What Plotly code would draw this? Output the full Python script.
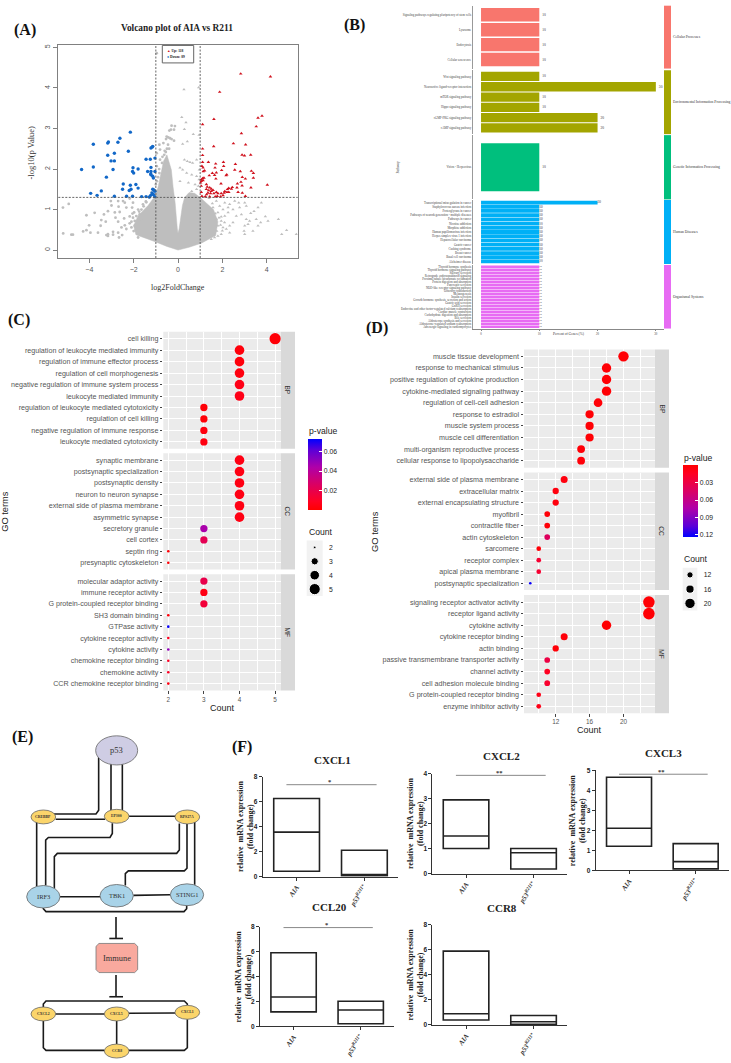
import plotly.graph_objects as go

W, H = 731, 1063
SERIF = "Liberation Serif"
SANS = "Liberation Sans"

# ---------- panel A data ----------
blue_x = [-4.35,-3.82,-3.82,-3.94,-3.65,-3.46,-3.23,-3.17,-3.17,-3.14,-3.02,-2.87,-2.87,-2.93,-2.87,-2.71,-2.62,-2.24,-2.15,-2.47,-2.5,-2.32,-2.15,-2.12,-2.2,-2.05,-2.03,-2.05,-2.0,-1.8,-1.9,-1.8,-1.64,-1.44,-1.44,-1.37,-1.25,-1.22,-1.17,-1.14,-1.04,-1.22,-1.22,-1.22,-1.14,-1.04,-1.11,-1.23,-1.14,-1.08,-1.04,-1.17,-1.23,-1.29,-1.11,-1.05]
blue_y = [1.99,2.61,2.05,1.40,1.35,1.46,1.80,2.34,2.64,2.67,2.2,2.2,2.39,1.99,1.33,2.66,2.76,2.44,2.91,1.63,1.5,1.33,1.6,1.5,1.47,1.33,2.03,1.94,1.9,2.0,1.62,1.53,1.32,1.32,2.24,1.94,2.24,2.52,2.54,2.56,2.27,2.04,1.94,1.86,1.82,1.94,1.78,1.88,1.5,1.48,1.45,1.41,1.35,1.31,1.37,1.32]
red_x = [2.83,4.17,1.88,1.62,1.11,3.79,3.61,3.53,2.86,2.5,3.05,1.61,1.11,1.11,2.89,3.0,3.28,1.11,1.08,1.13,1.14,1.2,1.37,1.7,1.67,2.05,2.06,2.59,2.56,2.81,3.31,3.4,3.4,3.04,2.9,2.84,2.68,2.89,3.29,4.03,2.66,2.71,2.9,3.04,2.45,1.97,2.2,2.17,1.73,1.55,1.41,1.65,1.71,1.05,1.11,1.17,1.05,1.13,1.02,1.94,1.28,1.32,1.43,1.5,1.28,1.38,1.5,1.58,1.35,1.47,1.62,1.29,1.73,1.8,1.77,1.95,2.08,2.11,2.23,2.29,2.21,2.03,1.92,1.68,1.43,1.23,1.05,1.05,1.08,2.29,2.41]
red_y = [4.35,4.28,3.90,3.23,3.10,3.31,3.26,3.05,2.88,2.63,2.6,2.56,2.5,2.34,2.35,2.33,2.35,2.17,2.07,2.03,1.94,1.96,2.17,2.13,2.03,2.17,2.07,2.12,1.98,1.94,1.95,1.9,1.78,1.76,1.8,1.68,1.64,1.59,1.54,1.61,1.54,1.43,1.41,1.33,1.55,1.97,1.86,1.84,1.91,1.9,1.84,1.85,1.76,1.74,1.77,1.78,1.7,1.72,1.66,1.64,1.62,1.56,1.54,1.51,1.5,1.47,1.45,1.48,1.41,1.4,1.4,1.37,1.43,1.4,1.33,1.4,1.41,1.45,1.5,1.53,1.43,1.35,1.32,1.32,1.32,1.32,1.58,1.43,1.33,1.43,1.51]
gray_left_x = [-0.96,-0.29,-0.14,-0.32,-0.18,-0.39,-0.51,-0.44,-0.36,-0.54,-0.29,-0.18,-0.66,-0.84,-0.81,-0.96,-0.81,-0.96,-0.84,-0.6,-0.7,-0.5,-0.4,-0.45,-4.93,-5.19,-5.18,-4.81,-4.74,-4.28,-4.13,-3.95,-3.61,-4.01,-4.13,-3.76,-3.46,-3.49,-3.26,-3.34,-3.16,-3.0,-3.03,-2.7,-2.48,-2.68,-2.85,-2.63,-2.82,-2.7,-2.43,-2.4,-2.33,-2.03,-2.18,-2.07,-1.98,-2.18,-2.03,-1.88,-2.4,-2.18,-2.55,-2.33,-2.1,-1.95,-3.23,-3.16,-2.93,-2.93,-2.7,-2.52,-2.66,-3.16,-1.8,-1.73,-1.8,-1.83,-1.65,-1.58,-1.43,-1.73,-1.65,-1.8,-2.1,-2.0,-1.95,-2.05,-1.9,-1.75,-1.55,-1.45,-1.3,-1.2,-1.1,-1.0,-0.95,-0.9,-0.85,-0.72,-0.62,-0.55]
gray_left_y = [4.86,3.07,3.06,2.97,2.97,2.95,2.8,2.78,2.76,2.74,2.74,2.7,2.64,2.6,2.48,2.39,2.23,2.07,1.9,2.45,2.3,2.5,2.5,2.6,1.14,1.05,0.41,0.38,0.38,0.46,0.49,0.43,0.43,0.61,0.86,0.92,0.74,0.6,0.7,0.88,0.96,1.1,1.21,1.21,1.21,1.07,0.93,0.94,0.8,0.7,0.78,1.17,1.05,1.17,1.27,1.05,0.93,0.83,0.8,0.84,0.61,0.66,0.56,0.52,0.56,0.6,0.37,0.39,0.45,0.38,0.43,0.37,0.31,0.35,0.52,0.39,0.31,0.72,1.0,1.13,1.18,0.88,0.76,1.0,0.7,0.47,0.72,0.9,0.5,0.95,1.08,1.2,1.3,1.42,1.5,1.62,1.7,1.8,2.0,2.15,2.35,2.42]
gray_right_x = [0.27,0.93,0.17,0.36,0.29,0.69,0.95,0.42,0.21,0.29,0.42,0.54,0.66,0.84,0.09,0.21,0.39,0.62,0.84,0.96,0.09,0.47,0.77,0.92,0.62,0.84,0.95,5.34,4.9,4.68,4.53,3.94,4.06,3.76,3.61,3.43,3.28,3.01,3.08,2.74,2.56,2.33,2.11,2.78,2.48,2.86,2.63,3.08,3.23,3.01,3.16,3.53,3.73,3.38,2.98,3.01,3.61,2.48,2.33,2.26,2.11,1.95,2.18,2.33,1.95,1.8,1.65,1.5,1.88,1.8,2.03,1.73,2.26,1.58,1.73,1.8,2.03,1.85,1.92,1.68,1.55,1.4,1.25,2.0,1.95,1.75,2.1]
gray_right_y = [3.96,4.01,3.28,3.15,2.98,2.86,2.84,2.68,2.62,2.23,2.19,2.17,2.15,2.23,2.03,1.98,1.9,1.86,1.82,1.98,1.7,1.66,1.62,1.58,1.45,1.5,1.74,0.39,0.49,0.39,0.76,0.83,0.72,1.17,1.05,0.96,0.91,1.17,1.09,1.17,1.21,1.13,1.17,1.05,1.0,0.88,0.84,0.76,0.72,0.6,0.64,0.76,0.68,0.47,0.47,0.39,0.6,0.68,0.6,0.93,0.84,0.72,0.52,0.43,0.39,0.35,0.31,0.27,1.09,0.93,1.0,1.21,1.05,1.05,0.76,0.6,0.56,0.8,0.62,0.9,1.15,1.28,1.32,0.48,0.82,0.47,0.68]
cloud_x = [0,-0.5,-1,-1.4,-1.9,-2.0,-1.8,-1.35,-1.05,-0.9,-0.78,-0.65,-0.5,-0.3,-0.22,-0.13,-0.03,0,0.05,0.2,0.3,0.5,0.75,1,1.3,1.6,1.8,1.7,1.05,0.5,0]
cloud_y = [0,0.09,0.2,0.28,0.38,0.6,0.85,1.1,1.32,1.55,1.9,2.2,2.35,1.98,1.55,1.17,0.52,0.42,0.52,1.1,1.3,1.42,1.4,1.3,1.15,1.0,0.7,0.36,0.17,0.07,0]
thresholds_x = [-1, 1]
threshold_y = 1.3

# ---------- panel B data ----------
b_groups = ["Cellular Processes", "Environmental Information Processing", "Genetic Information Processing", "Human Diseases", "Organismal Systems"]
b_cell = ["Signaling pathways regulating pluripotency of stem cells", "Lysosome", "Endocytosis", "Cellular senescence"]
b_cell_v = [10, 10, 10, 10]
b_env = ["Wnt signaling pathway", "Neuroactive ligand-receptor interaction", "mTOR signaling pathway", "Hippo signaling pathway", "cGMP-PKG signaling pathway", "cAMP signaling pathway"]
b_env_v = [10, 30, 10, 10, 20, 20]
b_gen = ["Virion - Herpesvirus"]
b_gen_v = [10]
b_hum = ["Transcriptional misregulation in cancer", "Staphylococcus aureus infection", "Proteoglycans in cancer", "Pathways of neurodegeneration - multiple diseases", "Pathways in cancer", "Nicotine addiction", "Morphine addiction", "Human papillomavirus infection", "Herpes simplex virus 1 infection", "Hepatocellular carcinoma", "Gastric cancer", "Cushing syndrome", "Breast cancer", "Basal cell carcinoma", "Alzheimer disease"]
b_hum_v = [20, 10, 10, 10, 10, 10, 10, 10, 10, 10, 10, 10, 10, 10, 10]
b_org = ["Thyroid hormone synthesis", "Thyroid hormone signaling pathway", "Salivary secretion", "Retrograde endocannabinoid signaling", "Proximal tubule bicarbonate reclamation", "Protein digestion and absorption", "Pancreatic secretion", "NOD-like receptor signaling pathway", "Olfactory transduction", "Melanogenesis", "Insulin secretion", "Growth hormone synthesis, secretion and action", "Gastric acid secretion", "GnRH secretion", "Endocrine and other factor-regulated calcium reabsorption", "Cardiac muscle contraction", "Carbohydrate digestion and absorption", "Bile secretion", "Aldosterone synthesis and secretion", "Aldosterone-regulated sodium reabsorption", "Adrenergic signaling in cardiomyocytes"]
b_org_v = [10] * 21

# ---------- panel C data ----------
c_bp = ["cell killing", "regulation of leukocyte mediated immunity", "regulation of immune effector process", "regulation of cell morphogenesis", "negative regulation of immune system process", "leukocyte mediated immunity", "regulation of leukocyte mediated cytotoxicity", "regulation of cell killing", "negative regulation of immune response", "leukocyte mediated cytotoxicity"]
c_bp_n = [5, 4, 4, 4, 4, 4, 3, 3, 3, 3]
c_bp_p = [.002, .003, .003, .004, .006, .006, .002, .002, .004, .004]
c_cc = ["synaptic membrane", "postsynaptic specialization", "postsynaptic density", "neuron to neuron synapse", "external side of plasma membrane", "asymmetric synapse", "secretory granule", "cell cortex", "septin ring", "presynaptic cytoskeleton"]
c_cc_n = [4, 4, 4, 4, 4, 4, 3, 3, 2, 2]
c_cc_p = [.005, .005, .005, .005, .005, .005, .045, .022, .002, .002]
c_mf = ["molecular adaptor activity", "immune receptor activity", "G protein-coupled receptor binding", "SH3 domain binding", "GTPase activity", "cytokine receptor activity", "cytokine activity", "chemokine receptor binding", "chemokine activity", "CCR chemokine receptor binding"]
c_mf_n = [3, 3, 3, 2, 2, 2, 2, 2, 2, 2]
c_mf_p = [.02, .005, .015, .003, .072, .008, .05, .01, .01, .005]
c_legend = [2, 3, 4, 5]

# ---------- panel D data ----------
d_bp = ["muscle tissue development", "response to mechanical stimulus", "positive regulation of cytokine production", "cytokine-mediated signaling pathway", "regulation of cell-cell adhesion", "response to estradiol", "muscle system process", "muscle cell differentiation", "multi-organism reproductive process", "cellular response to lipopolysaccharide"]
d_bp_n = [20, 18, 18, 18, 17, 16, 16, 16, 15, 15]
d_bp_p = [.002, .002, .002, .002, .003, .002, .002, .002, .003, .004]
d_cc = ["external side of plasma membrane", "extracellular matrix", "external encapsulating structure", "myofibril", "contractile fiber", "actin cytoskeleton", "sarcomere", "receptor complex", "apical plasma membrane", "postsynaptic specialization"]
d_cc_n = [13, 12, 12, 11, 11, 11, 10, 10, 10, 9]
d_cc_p = [.006, .006, .006, .003, .003, .042, .003, .022, .022, .122]
d_mf = ["signaling receptor activator activity", "receptor ligand activity", "cytokine activity", "cytokine receptor binding", "actin binding", "passive transmembrane transporter activity", "channel activity", "cell adhesion molecule binding", "G protein-coupled receptor binding", "enzyme inhibitor activity"]
d_mf_n = [23, 23, 18, 13, 12, 11, 11, 11, 10, 10]
d_mf_p = [.002, .002, .001, .004, .003, .03, .015, .02, .01, .01]
d_legend = [12, 16, 20]

# ---------- panel F data ----------
f_genes = ["CXCL1", "CXCL2", "CXCL3", "CCL20", "CCR8"]
f_groups = ["AIA", "p53R211*"]
f_q1 = [[0.42, 0.05], [1.0, 0.18], [1.2, 0.07], [1.15, 0.2], [0.4, 0.05]]
f_med = [[3.55, 0.15], [1.5, 0.83], [2.1, 0.43], [2.35, 1.3], [0.9, 0.25]]
f_q3 = [[6.25, 2.1], [2.95, 1.0], [4.65, 1.33], [5.9, 2.0], [5.9, 0.75]]
f_ymax = [8, 4, 5, 8, 8]
f_ticks = [[0, 2, 4, 6, 8], [0, 1, 2, 3, 4], [0, 1, 2, 3, 4, 5], [0, 2, 4, 6, 8], [0, 2, 4, 6, 8]]
f_sig = [7.35, 3.93, 4.8, 7.92, None]
f_star = ["*", "**", "**", "*", ""]

# ---------- layout geometry (pixels) ----------
def X(p): return p / W
def Y(p): return 1 - p / H

layout = dict(width=W, height=H, margin=dict(l=0, r=0, t=0, b=0), paper_bgcolor="white", plot_bgcolor="rgba(0,0,0,0)",
              showlegend=False, font=dict(family=SANS, color="#333"))
shapes, annotations, traces = [], [], []
axis_n = [0]

def axes(x0, x1, y0, y1, xo, yo):
    axis_n[0] += 1
    n = axis_n[0]
    sfx = "" if n == 1 else str(n)
    xo = dict(xo); yo = dict(yo)
    xo.update(domain=[X(x0), X(x1)], anchor="y" + sfx)
    yo.update(domain=[Y(y1), Y(y0)], anchor="x" + sfx)
    layout["xaxis" + sfx] = xo
    layout["yaxis" + sfx] = yo
    return "x" + sfx, "y" + sfx

def rect(x0, y0, x1, y1, fill="rgba(0,0,0,0)", line=None, lw=0, layer="below"):
    shapes.append(dict(type="rect", xref="paper", yref="paper", x0=X(x0), x1=X(x1), y0=Y(y1), y1=Y(y0),
                       fillcolor=fill, line=dict(color=line or fill, width=lw), layer=layer))

def text(x, y, s, size, color="#222", family=SERIF, angle=0, anchor="center", bold=False):
    if bold:
        s = "<b>" + s.replace("<br>", "</b><br><b>") + "</b>"
    annotations.append(dict(xref="paper", yref="paper", x=X(x), y=Y(y), text=s, showarrow=False, textangle=angle,
                            xanchor=anchor, yanchor="middle", font=dict(size=size, color=color, family=family),
                            align="center", borderpad=0))

# panel letters
for s, x, y in [("(A)", 25, 26.5), ("(B)", 354, 21.5), ("(C)", 19, 318), ("(D)", 377, 326.5), ("(E)", 22.5, 737.5), ("(F)", 242, 748)]:
    text(x, y, s, 16, "#111", bold=True)

# ---------- Panel A ----------
GR = "#808080"
ax = axes(58.3, 297.7, 41.7, 255.7,
          dict(range=[-5.4, 5.4], tickvals=[-4, -2, 0, 2, 4], showgrid=False, zeroline=False, showline=True, mirror=True, linecolor=GR, linewidth=1.3,
               ticks="outside", ticklen=4, tickcolor=GR, tickfont=dict(size=7, color="#555")),
          dict(range=[-0.196, 5.05], tickvals=[0, 1, 2, 3, 4, 5], showgrid=False, zeroline=False, showline=True, mirror=True, linecolor=GR, linewidth=1.3,
               ticks="outside", ticklen=4, tickcolor=GR, tickangle=-90, tickfont=dict(size=7, color="#555")))
GRAY = "#BEBEBE"
traces.append(go.Scatter(x=cloud_x, y=cloud_y, mode="lines", fill="toself", fillcolor=GRAY, line=dict(width=0.5, color=GRAY), xaxis=ax[0], yaxis=ax[1]))
traces.append(go.Scatter(x=gray_left_x, y=gray_left_y, mode="markers", marker=dict(size=2.8, color=GRAY, symbol="circle"), xaxis=ax[0], yaxis=ax[1]))
traces.append(go.Scatter(x=gray_right_x, y=gray_right_y, mode="markers", marker=dict(size=3, color=GRAY, symbol="triangle-up"), xaxis=ax[0], yaxis=ax[1]))
traces.append(go.Scatter(x=blue_x, y=blue_y, mode="markers", marker=dict(size=3.4, color="#1268C8", symbol="circle"), xaxis=ax[0], yaxis=ax[1]))
traces.append(go.Scatter(x=red_x, y=red_y, mode="markers", marker=dict(size=3.2, color="#D0121E", symbol="triangle-up"), xaxis=ax[0], yaxis=ax[1]))
for v in thresholds_x:
    shapes.append(dict(type="line", xref=ax[0], yref=ax[1] + " domain", x0=v, x1=v, y0=0, y1=1, line=dict(color="#555", width=0.9, dash="2px,1.5px"), layer="above"))
shapes.append(dict(type="line", xref=ax[0] + " domain", yref=ax[1], x0=0, x1=1, y0=threshold_y, y1=threshold_y, line=dict(color="#555", width=0.9, dash="2px,1.5px"), layer="above"))
rect(162.3, 41.7, 193.7, 59.3, fill="white", line="#666", lw=1, layer="above")
text(166, 47.3, "<span style='color:#D0121E'>▲</span> <b>Up: 118</b>", 3.6, "#222", anchor="left")
text(166, 53.3, "<span style='color:#1268C8'>●</span> <b>Down: 89</b>", 3.6, "#222", anchor="left")
text(177, 24, "Volcano plot of AIA vs R211", 9.4, "#222", bold=True)
text(178, 285, "log2FoldChange", 8, "#333")
text(31.5, 150, "-log10(p Value)", 8.5, "#333", angle=-90)

# ---------- Panel B ----------
B_COL = ["#F8766D", "#A3A500", "#00BF7D", "#00B0F6", "#E76BF3"]
b_rows = [(b_cell, b_cell_v, 1.7, 65), (b_env, b_env_v, 66.7, 131), (b_gen, b_gen_v, 132, 196.7), (b_hum, b_hum_v, 197.3, 261.7), (b_org, b_org_v, 262.7, 326.7)]
for i, (names, vals, y0, y1) in enumerate(b_rows):
    last = i == 4
    ax = axes(472.7, 664, y0, y1,
              dict(range=[-1.43, 31.4], tickvals=[0, 10, 20, 30], showgrid=False, zeroline=False, showticklabels=last, showline=last, linecolor="#888", linewidth=0.8,
                   ticks="outside" if last else "", ticklen=1.5, tickcolor="#888", tickfont=dict(size=3, color="#444", family=SERIF)),
              dict(type="category", categoryorder="array", categoryarray=names, range=[len(names) - 0.4, -0.6], dtick=1, showgrid=False, zeroline=False,
                   showline=True, linecolor="#999", linewidth=0.8, ticks="", ticklen=0,
                   tickfont=dict(size=3.0, color="#444", family=SERIF)))
    traces.append(go.Bar(x=vals, y=names, orientation="h", width=0.9, marker=dict(color=B_COL[i], line=dict(width=0)), text=vals, textposition="outside", cliponaxis=False,
                         textfont=dict(size=3.6, color="#333", family=SERIF), xaxis=ax[0], yaxis=ax[1]))
    rect(664, y0, 671, y1, fill=B_COL[i])
    text(672, (y0 + y1) / 2, b_groups[i], 3.7, "#333", anchor="left")
text(397.7, 164, "Pathway", 3.6, "#333", angle=-90)
text(569, 332.5, "Percent of Genes (%)", 3.6, "#333")

# ---------- Panels C and D ----------
def size_c(n): return {2: 2.6, 3: 7.3, 4: 9.6, 5: 11.2}[n]
def size_d(n): return {9: 2.6, 10: 4.7, 11: 5.7, 12: 6.3, 13: 7, 15: 7.8, 16: 8.2, 17: 8.7, 18: 9.4, 20: 10.4, 23: 11.6}[n]

RB = [[0, "#FF0000"], [0.12, "#FF0022"], [0.35, "#DC0060"], [0.6, "#B000A8"], [0.85, "#5A00D8"], [1, "#0000FF"]]
RB_REV = [[1 - a, c] for a, c in RB][::-1]
layout["coloraxis"] = dict(cmin=0.0002, cmax=0.0727, colorscale=RB, colorbar=dict(
    x=X(308.3), xanchor="left", y=Y(473.6), yanchor="middle", lenmode="pixels", len=70.7, thicknessmode="pixels", thickness=14, xpad=0, ypad=0, outlinewidth=0,
    tickvals=[0.02, 0.04, 0.06], ticktext=["0.02", "0.04", "0.06"], ticks="inside", ticklen=3, tickcolor="white", tickfont=dict(size=6.8, color="#222", family=SANS)))
layout["coloraxis2"] = dict(cmin=-0.124, cmax=0, colorscale=RB_REV, colorbar=dict(
    x=X(682.7), xanchor="left", y=Y(500.5), yanchor="middle", lenmode="pixels", len=72.4, thicknessmode="pixels", thickness=14.5, xpad=0, ypad=0, outlinewidth=0,
    tickvals=[-0.03, -0.06, -0.09, -0.12], ticktext=["0.03", "0.06", "0.09", "0.12"], ticks="inside", ticklen=3, tickcolor="white", tickfont=dict(size=6.8, color="#222", family=SANS)))

def dotpanel(x0, x1, strip, rows, xr, xt, xminor, size_fn, cax, sign, tfs):
    for k, (name, labels, counts, pv, y0, y1) in enumerate(rows):
        last = k == 2
        rect(x0, y0, x1, y1, fill="#EBEBEB")
        rect(x1, y0, strip, y1, fill="#D9D9D9")
        text((x1 + strip) / 2, (y0 + y1) / 2, name, 6.6, "#333", family=SANS, angle=90)
        ax = axes(x0, x1, y0, y1,
                  dict(range=xr, tickvals=xt, showgrid=True, gridcolor="white", gridwidth=0.9, zeroline=False, showticklabels=last, showline=False,
                       ticks="outside" if last else "", ticklen=2.5, tickcolor="#444", tickfont=dict(size=6.4, color="#555", family=SANS),
                       minor=dict(tickvals=xminor, showgrid=True, gridcolor="white", gridwidth=0.4, ticks="")),
                  dict(type="category", categoryorder="array", categoryarray=labels, range=[len(labels) - 0.4, -0.6], dtick=1, showgrid=True, gridcolor="white", gridwidth=0.9,
                       zeroline=False, showline=False, ticks="outside", ticklen=2.5, tickcolor="#444", tickfont=dict(size=tfs, color="#555", family=SANS)))
        traces.append(go.Scatter(x=counts, y=labels, mode="markers", xaxis=ax[0], yaxis=ax[1], cliponaxis=False,
                                 marker=dict(size=[size_fn(n) for n in counts], color=[sign * p for p in pv], coloraxis=cax, opacity=1, line=dict(width=0))))

dotpanel(163.3, 280.7, 295, [("BP", c_bp, c_bp_n, c_bp_p, 330, 447.7), ("CC", c_cc, c_cc_n, c_cc_p, 452.3, 569.3), ("MF", c_mf, c_mf_n, c_mf_p, 574, 691)],
         [1.86, 5.157], [2, 3, 4, 5], [2.5, 3.5, 4.5], size_c, "coloraxis", 1, 7.15)
dotpanel(524, 655, 669, [("BP", d_bp, d_bp_n, d_bp_p, 347.7, 466.7), ("CC", d_cc, d_cc_n, d_cc_p, 471.7, 590), ("MF", d_mf, d_mf_n, d_mf_p, 595, 714)],
         [8.26, 23.72], [12, 16, 20], [10, 14, 18, 22], size_d, "coloraxis2", -1, 7.15)
text(5.5, 510.7, "GO terms", 9.3, "#222", family=SANS, angle=-90)
text(375.7, 530.7, "GO terms", 9.3, "#222", family=SANS, angle=-90)
text(222, 708.5, "Count", 9, "#222", family=SANS)
text(589.7, 731, "Count", 9, "#222", family=SANS)
text(308.3, 430, "p-value", 8.6, "#222", family=SANS, anchor="left")
text(682.7, 456.7, "p-value", 8.6, "#222", family=SANS, anchor="left")
text(308.3, 531.7, "Count", 8.6, "#222", family=SANS, anchor="left")
text(682.7, 559, "Count", 8.6, "#222", family=SANS, anchor="left")

def legend(x0, x1, y0, y1, vals, size_fn):
    rect(x0, y0, x1, y1, fill="#F2F2F2")
    labs = [str(v) for v in vals]
    ax = axes(x0, x1, y0, y1, dict(range=[0, 1], visible=False),
              dict(type="category", categoryorder="array", categoryarray=labs, range=[len(labs) - 0.5, -0.5], dtick=1, side="right", showgrid=False, zeroline=False, showline=False,
                   ticks="outside", ticklen=4, tickcolor="rgba(0,0,0,0)", tickfont=dict(size=6.8, color="#222", family=SANS)))
    traces.append(go.Scatter(x=[0.5] * len(vals), y=labs, mode="markers", marker=dict(size=[size_fn(v) for v in vals], color="black", opacity=1), xaxis=ax[0], yaxis=ax[1]))

legend(306.7, 322.7, 540, 596, c_legend, size_c)
legend(682.7, 697.3, 567.5, 610.5, d_legend, size_d)

# ---------- Panel E (diagram, pixel layout) ----------
def zx(v): return v / 3
def zy(v): return 690 + v / 3

e_edges = [
    [(296, 205), (296, 365), (288, 376), (155, 376)], [(333, 226), (333, 365)], [(367, 226), (367, 365)],
    [(167, 392), (315, 392)], [(387, 383), (525, 383)], [(110, 400), (110, 595)],
    [(337, 404), (337, 435), (330, 447), (145, 447), (137, 455), (137, 592)],
    [(538, 405), (538, 485), (530, 495), (172, 495), (163, 505), (163, 600)],
    [(561, 406), (561, 540), (553, 548), (385, 548), (376, 556), (376, 592)],
    [(584, 400), (584, 590)], [(180, 626), (300, 626)], [(400, 622), (511, 620)],
    [(130, 655), (130, 662), (138, 671), (552, 671), (560, 662), (560, 650)],
    [(167, 980), (313, 980)], [(387, 978), (525, 977)],
    [(130, 960), (130, 950), (138, 941), (553, 941), (562, 950), (562, 954)],
    [(130, 1000), (130, 1082), (138, 1090), (313, 1090)], [(562, 996), (562, 1082), (553, 1090), (387, 1090)],
    [(350, 1001), (350, 1071)],
    [(348, 687), (348, 752)], [(328, 752), (369, 752)], [(348, 862), (348, 928)], [(328, 928), (369, 928)],
]
for pts in e_edges:
    path = "M" + " L".join(f"{X(zx(a)):.5f},{Y(zy(b)):.5f}" for a, b in pts)
    shapes.append(dict(type="path", xref="paper", yref="paper", path=path, line=dict(color="#1a1a1a", width=1.6), layer="below"))

e_nodes = [("p53", 350, 184, 63, 44, "#CFCDE4", 8.5, False), ("CREBBP", 130, 385, 37, 21, "#FBD56B", 3.8, True), ("EP300", 350, 383, 37, 21, "#FBD56B", 3.8, True),
           ("RPS27A", 562, 385, 37, 21, "#FBD56B", 3.8, True), ("IRF3", 130, 626, 50, 34, "#A9D3E8", 6.5, False), ("TBK1", 350, 623, 50, 34, "#A9D3E8", 6.5, False),
           ("STING1", 561, 620, 50, 33, "#A9D3E8", 6.5, False), ("CXCL2", 130, 980, 37, 21, "#FBD56B", 3.8, True), ("CXCL5", 350, 980, 37, 21, "#FBD56B", 3.8, True),
           ("CXCL1", 562, 975, 37, 21, "#FBD56B", 3.8, True), ("CCR8", 350, 1092, 37, 21, "#FBD56B", 3.8, True)]
for name, cx, cy, rx, ry, fill, fs, b in e_nodes:
    shapes.append(dict(type="circle", xref="paper", yref="paper", x0=X(zx(cx - rx)), x1=X(zx(cx + rx)), y0=Y(zy(cy + ry)), y1=Y(zy(cy - ry)), fillcolor=fill, line=dict(color="#666", width=0.8), layer="below"))
    text(zx(cx), zy(cy), name, fs, "#333", bold=b)
# rounded "Immune" box
imm = [(297, 767), (404, 767), (413, 776), (413, 846), (404, 855), (297, 855), (288, 846), (288, 776)]
imm_path = "M" + " L".join(f"{X(zx(a)):.5f},{Y(zy(b)):.5f}" for a, b in imm) + " Z"
shapes.append(dict(type="path", xref="paper", yref="paper", path=imm_path, fillcolor="#F9A99E", line=dict(color="#777", width=0.8), layer="below"))
text(zx(350), zy(811), "Immune", 8.4, "#333")

# ---------- Panel F ----------
f_geo = [  # x-axis-left, x-axis-right, top pixel, base pixel, centre of the title, y-title x
    (262.7, 398.3, 777.7, 878.3, (332.3, 761), 245.5),
    (432.3, 567.3, 774.7, 875.3, (501.7, 757.3), 415.5),
    (595.7, 729, 771.3, 872, (663.3, 754), 577),
    (260, 394.3, 928.7, 1029, (329, 909), 243),
    (432.3, 567.3, 927, 1027.7, (501.7, 910), 415.5),
]
for i, (xl, xr, yt, yb, tp, yl) in enumerate(f_geo):
    ax = axes(xl, xr, yt, yb,
              dict(range=[-0.5, 1.5], tickvals=[0, 1], ticktext=["<b><i>AIA</i></b>", "<b><i>p53</i></b><sup><b><i>R211*</i></b></sup>"], tickangle=-55, showgrid=False, zeroline=False, showline=True,
                   linecolor="#333", linewidth=1, ticks="outside", ticklen=3, tickcolor="#333", tickfont=dict(size=7, color="#333", family=SERIF)),
              dict(range=[0, f_ymax[i]], tickvals=f_ticks[i], showgrid=False, zeroline=False, showline=True, linecolor="#333", linewidth=1, ticks="outside", ticklen=3, tickcolor="#333",
                   tickfont=dict(size=6.5, color="#222", family=SANS, weight=700)))
    traces.append(go.Box(x=[0, 1], q1=f_q1[i], median=f_med[i], q3=f_q3[i], lowerfence=f_q1[i], upperfence=f_q3[i], width=0.675, whiskerwidth=0, boxpoints=False,
                         fillcolor="rgba(0,0,0,0)", line=dict(color="#222", width=1.6), xaxis=ax[0], yaxis=ax[1]))
    if f_sig[i] is not None:
        sx = [-0.15, 1.18]
        traces.append(go.Scatter(x=sx, y=[f_sig[i], f_sig[i]], mode="lines", line=dict(color="#888", width=1), xaxis=ax[0], yaxis=ax[1], cliponaxis=False))
        annotations.append(dict(xref=ax[0], yref=ax[1], x=0.49, y=f_sig[i], text=f"<b>{f_star[i]}</b>", showarrow=False, yshift=3, font=dict(size=6.5, color="#333", family=SERIF)))
    text(tp[0], tp[1], f_genes[i], 11, "#222", bold=True)
    text(yl, (yt + yb) / 2, "relative  mRNA expression<br>(fold change)", 8.0, "#222", angle=-90, bold=True)

layout["shapes"] = shapes
layout["annotations"] = annotations
fig = go.Figure(data=traces, layout=layout)
fig.update_traces(hoverinfo="skip")
fig.write_html("out.html", config=dict(displayModeBar=False), post_script="document.body.style.margin='0';")
